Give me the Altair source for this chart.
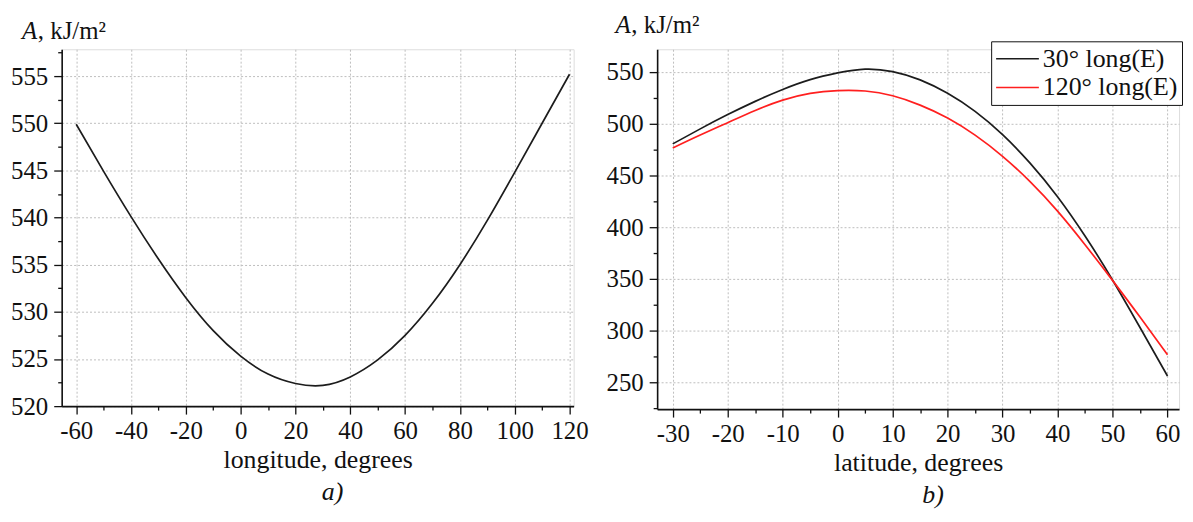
import altair as alt
import pandas as pd

FONT = "Liberation Serif"

# ---- panel a) : A vs longitude ----
longitude = [-60, -50, -40, -30, -20, -10, 0, 10, 20, 30, 40, 50, 60, 70, 80, 90, 100, 110, 120]
A_longitude = [549.9, 544.9, 540.1, 535.6, 531.5, 528.0, 525.3, 523.4, 522.4, 522.2, 523.1,
               524.9, 527.5, 530.9, 535.0, 539.7, 544.8, 550.0, 555.2]

# ---- panel b) : A vs latitude for two longitudes ----
latitude = [-30, -25, -20, -15, -10, -5, 0, 5, 10, 15, 20, 25, 30, 35, 40, 45, 50, 55, 60]
A_30E = [480.5, 495, 508.8, 521.6, 533.1, 542.6, 549.1, 552.8, 550.4, 542.4, 529.4, 511.9, 489.4,
         461.9, 429.4, 391.4, 348.9, 302.9, 256]
A_120E = [476.5, 489, 501, 512.8, 522.8, 529.3, 532, 531.6, 527, 518, 505.5, 489, 468.5, 444,
          415.5, 383, 348.5, 313, 276.5]
series_names = ["30° long(E)", "120° long(E)"]
series_colors = ["#1c1c1c", "#ff1f1f"]

x_ticks_a = list(range(-60, 121, 10))
y_ticks_a = [520 + 2.5 * i for i in range(16)]
x_ticks_b = list(range(-30, 61, 5))
y_ticks_b = list(range(225, 551, 25))

y_title_main = "A"
y_title_rest = ", kJ/m²"


def make_axis(values, major, orient, title=None):
    test = f"abs(datum.value % {major}) < 1e-6"
    return alt.Axis(
        values=values,
        orient=orient,
        title=title,
        tickSize={"condition": {"test": test, "value": 8}, "value": 4},
        tickWidth=1.3,
        tickColor="#111111",
        domainColor="#111111",
        domainWidth=1.6,
        labelExpr=f"{test} ? '' + datum.value : ''",
        labelFont=FONT,
        labelFontSize=25,
        labelColor="#111111",
        labelOverlap=False,
        labelFlush=False,
        labelPadding=6 if orient == "left" else 5,
        grid=True,
        gridColor="#bdbdbd",
        gridDash=[2, 2],
        gridWidth=1,
        gridOpacity={"condition": {"test": test, "value": 1}, "value": 0},
        titleFont=FONT,
        titleFontSize=26,
        titleFontWeight="normal",
        titleColor="#111111",
        titlePadding=3,
    )


def title_marks(x0, y0, dx_rest):
    t1 = alt.Chart(pd.DataFrame({"t": [y_title_main]})).mark_text(
        font=FONT, fontSize=25, fontStyle="italic", align="left", baseline="alphabetic", color="#111111"
    ).encode(x=alt.value(x0), y=alt.value(y0), text="t:N")
    t2 = alt.Chart(pd.DataFrame({"t": [y_title_rest]})).mark_text(
        font=FONT, fontSize=25, align="left", baseline="alphabetic", color="#111111"
    ).encode(x=alt.value(x0 + dx_rest), y=alt.value(y0), text="t:N")
    return t1, t2


def bottom_title(txt):
    return alt.TitleParams(
        text=txt, orient="bottom", font=FONT, fontSize=26, fontStyle="italic",
        fontWeight="normal", color="#111111", anchor="middle", dx=15, offset=6,
    )


# Panel a
df_a = pd.DataFrame({"lon": longitude, "A": A_longitude})
line_a = alt.Chart(df_a).mark_line(color="#1c1c1c", strokeWidth=1.7, interpolate="natural").encode(
    x=alt.X("lon:Q", scale=alt.Scale(domain=[-65.3, 121.5], nice=False, zero=False),
            axis=make_axis(x_ticks_a, 20, "bottom", "longitude, degrees")),
    y=alt.Y("A:Q", scale=alt.Scale(domain=[520, 557.85], nice=False, zero=False),
            axis=make_axis(y_ticks_a, 5, "left")),
)
ta1, ta2 = title_marks(-40, -10, 16)
panel_a = alt.layer(line_a, ta1, ta2).properties(width=515, height=359, title=bottom_title("a)"))

# Panel b
rows = []
for lat, v in zip(latitude, A_30E):
    rows.append({"lat": lat, "A": v, "series": series_names[0]})
for lat, v in zip(latitude, A_120E):
    rows.append({"lat": lat, "A": v, "series": series_names[1]})
df_b = pd.DataFrame(rows)

line_b = alt.Chart(df_b).mark_line(strokeWidth=1.7, interpolate="natural").encode(
    x=alt.X("lat:Q", scale=alt.Scale(domain=[-32.84, 62.1], nice=False, zero=False),
            axis=make_axis(x_ticks_b, 10, "bottom", "latitude, degrees")),
    y=alt.Y("A:Q", scale=alt.Scale(domain=[224, 572], nice=False, zero=False),
            axis=make_axis(y_ticks_b, 50, "left")),
    color=alt.Color(
        "series:N",
        scale=alt.Scale(domain=series_names, range=series_colors),
        sort=series_names,
        legend=alt.Legend(
            title=None, orient="none", legendX=935, legendY=-8,
            strokeColor="#111111", fillColor="white", padding=4, rowPadding=2,
            clipHeight=27,
            labelFont=FONT, labelFontSize=26, labelColor="#111111", labelOffset=3,
            symbolType="stroke", symbolSize=1849, symbolStrokeWidth=1.6,
        ),
    ),
    detail="series:N",
)
tb1, tb2 = title_marks(-42, -16, 16)
panel_b = alt.layer(line_b, tb1, tb2).properties(width=525, height=362, title=bottom_title("b)"))

chart = alt.hconcat(panel_a, panel_b, spacing=16).properties(
    padding={"left": 2, "top": 3, "right": 2, "bottom": 2}
).configure_view(stroke="transparent").configure(background="white")

chart.save("out.html", embed_options={"renderer": "svg", "actions": False})
